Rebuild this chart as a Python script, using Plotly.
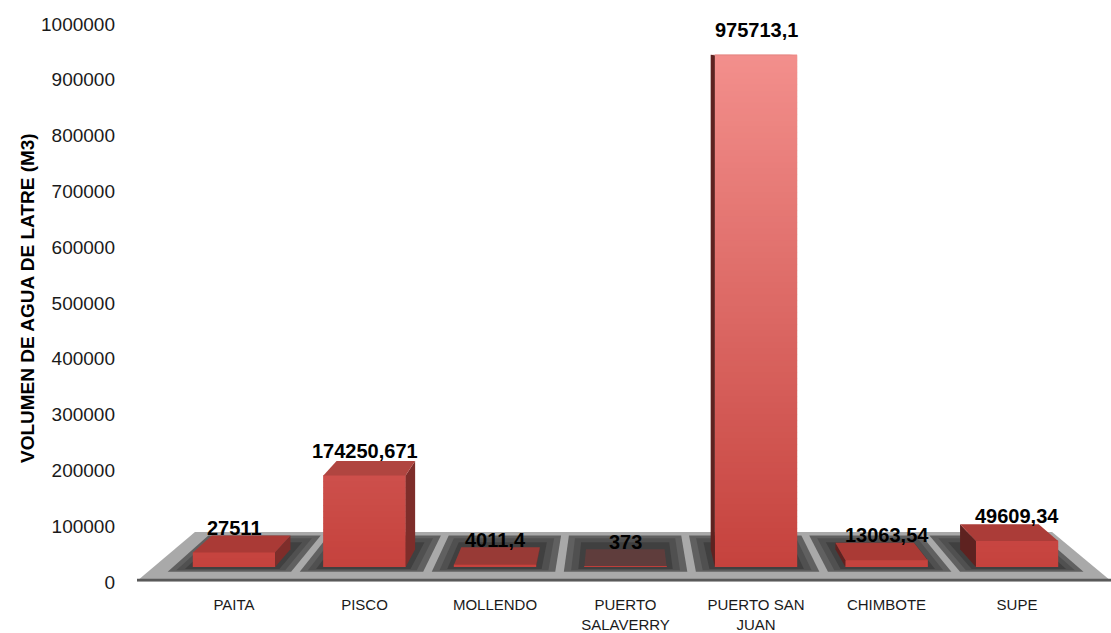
import plotly.graph_objects as go

# ---- data -----------------------------------------------------------------
categories = ["PAITA", "PISCO", "MOLLENDO", "PUERTO<br>SALAVERRY",
              "PUERTO SAN<br>JUAN", "CHIMBOTE", "SUPE"]
values = [27511, 174250.671, 4011.4, 373, 975713.1, 13063.54, 49609.34]
value_labels = ["27511", "174250,671", "4011,4", "373", "975713,1",
                "13063,54", "49609,34"]
y_ticks = [0, 100000, 200000, 300000, 400000, 500000,
           600000, 700000, 800000, 900000, 1000000]
y_tick_text = [str(v) for v in y_ticks]
y_title = "VOLUMEN DE AGUA DE LATRE (M3)"

# ---- canvas / plot-area geometry (pixels) ---------------------------------
W, H = 1111, 633
M_L, M_R, M_T, M_B = 135, 0, 24, 51
PLOT_W = W - M_L - M_R
PLOT_H = H - M_T - M_B
SLOT_PX = 130.5            # horizontal distance between category centres
FIRST_CENTER_PX = 234
X0 = -(FIRST_CENTER_PX - M_L) / SLOT_PX
X1 = X0 + PLOT_W / SLOT_PX
Y_MAX = 1_000_000

# ---- pseudo-3D settings ---------------------------------------------------
BAR_WIDTH = 0.63           # in category units
BAR_FLOOR_PX = 567         # where bar front faces stand
HEIGHT_SCALE = 0.94        # front faces are slightly foreshortened
VP = (620, 40)             # vanishing point for the depth direction
KX, KY = 0.12, 0.0906      # receding rate per unit of depth
BAR_DEPTH = 0.37
FLOOR_FRONT_PX = 581
FLOOR_LEFT_PX = 137

PX_PER_UNIT = HEIGHT_SCALE * PLOT_H / Y_MAX
Y2_SPAN = Y_MAX / HEIGHT_SCALE
Y2_MIN = ((BAR_FLOOR_PX - M_T) / PLOT_H - 1) * Y2_SPAN
Y2_MAX = Y2_MIN + Y2_SPAN

LABEL_FONT = "Liberation Sans Narrow, Arial Narrow, Liberation Sans"


def to_data_x(px):
    return X0 + (px - M_L) / SLOT_PX


def to_px_x(xd):
    return M_L + (xd - X0) * SLOT_PX


def to_data_y(py):
    return (1 - (py - M_T) / PLOT_H) * Y_MAX


def recede(px, py, t):
    return (px + t * KX * (VP[0] - px), py + t * KY * (VP[1] - py))


def path(points):
    pts = [f"{to_data_x(x):.5f},{to_data_y(y):.2f}" for x, y in points]
    return "M " + " L ".join(pts) + " Z"


def hex_rgb(h):
    h = h.lstrip("#")
    return tuple(int(h[i:i + 2], 16) for i in (0, 2, 4))


def mix(c1, c2, f):
    a, b = hex_rgb(c1), hex_rgb(c2)
    return "#%02x%02x%02x" % tuple(round(a[i] + (b[i] - a[i]) * f) for i in range(3))


FRONT_BOTTOM = "#c5423d"
FRONT_TOP = "#f38f8c"
SIDE_RIGHT = "#7e2d2a"
SIDE_LEFT = "#5e2220"
tallest_top = BAR_FLOOR_PX - max(values) * PX_PER_UNIT


def front_colour(py):
    f = (BAR_FLOOR_PX - py) / (BAR_FLOOR_PX - tallest_top)
    return mix(FRONT_BOTTOM, FRONT_TOP, max(0.0, min(1.0, f)))


shapes = []

# ---- floor slab -----------------------------------------------------------
fl_front_l = (FLOOR_LEFT_PX, FLOOR_FRONT_PX)
fl_front_r = (W, FLOOR_FRONT_PX)
shapes.append(dict(type="path", layer="below",
                   path=path([fl_front_l, fl_front_r,
                              recede(*fl_front_r, 1.0), recede(*fl_front_l, 1.0)]),
                   fillcolor="#a9a9a9", line=dict(width=0)))
# slab thickness and front edge
shapes.append(dict(type="rect", layer="below",
                   x0=to_data_x(FLOOR_LEFT_PX), x1=to_data_x(W),
                   y0=to_data_y(FLOOR_FRONT_PX), y1=to_data_y(FLOOR_FRONT_PX + 4),
                   fillcolor="#bdbdbd", line=dict(width=0)))
shapes.append(dict(type="line", layer="below",
                   x0=to_data_x(FLOOR_LEFT_PX), x1=to_data_x(W),
                   y0=to_data_y(FLOOR_FRONT_PX - 1), y1=to_data_y(FLOOR_FRONT_PX - 1),
                   line=dict(color="#595959", width=2.5)))

# shadowed wells under each bar
for i in range(len(categories)):
    c = to_px_x(i)
    for half, t0, t1, col in ((61, -0.10, 0.66, "#606060"),
                              (54, -0.07, 0.60, "#505050"),
                              (47, -0.04, 0.52, "#404040")):
        pts = [recede(c - half, BAR_FLOOR_PX, t0), recede(c + half, BAR_FLOOR_PX, t0),
               recede(c + half, BAR_FLOOR_PX, t1), recede(c - half, BAR_FLOOR_PX, t1)]
        shapes.append(dict(type="path", layer="below", path=path(pts),
                           fillcolor=col, line=dict(width=0)))

# ---- bar faces ------------------------------------------------------------
annotations = []
half_w_px = BAR_WIDTH / 2 * SLOT_PX
for i, (v, lab) in enumerate(zip(values, value_labels)):
    c = to_px_x(i)
    xl, xr = c - half_w_px, c + half_w_px
    ftop = BAR_FLOOR_PX - v * PX_PER_UNIT
    h_px = BAR_FLOOR_PX - ftop

    # vertical shading of the front face
    y = ftop
    while y < BAR_FLOOR_PX - 0.01:
        y2 = min(y + 6, BAR_FLOOR_PX)
        shapes.append(dict(type="rect", layer="above",
                           x0=i - BAR_WIDTH / 2, x1=i + BAR_WIDTH / 2,
                           y0=to_data_y(y2), y1=to_data_y(y - 0.6),
                           fillcolor=front_colour((y + y2) / 2), line=dict(width=0)))
        y = y2

    # side face
    if xr < VP[0]:
        pts = [(xr, BAR_FLOOR_PX), (xr, ftop),
               recede(xr, ftop, BAR_DEPTH), recede(xr, BAR_FLOOR_PX, BAR_DEPTH)]
        shapes.append(dict(type="path", layer="above", path=path(pts),
                           fillcolor=SIDE_RIGHT, line=dict(width=0)))
    elif xl > VP[0]:
        pts = [(xl, BAR_FLOOR_PX), (xl, ftop),
               recede(xl, ftop, BAR_DEPTH), recede(xl, BAR_FLOOR_PX, BAR_DEPTH)]
        shapes.append(dict(type="path", layer="above", path=path(pts),
                           fillcolor=SIDE_LEFT, line=dict(width=0)))

    # top face
    pts = [(xl, ftop), (xr, ftop),
           recede(xr, ftop, BAR_DEPTH), recede(xl, ftop, BAR_DEPTH)]
    shapes.append(dict(type="path", layer="above", path=path(pts),
                       fillcolor=mix(front_colour(ftop), "#000000", 0.14),
                       opacity=max(0.3, min(1.0, h_px / 2.5)),
                       line=dict(width=0)))

    annotations.append(dict(x=i, y=to_data_y(ftop - 25), xref="x", yref="y",
                            text=lab, showarrow=False, xanchor="center",
                            yanchor="middle",
                            font=dict(family=LABEL_FONT, size=20,
                                      color="#000000", weight="bold")))

annotations.append(dict(x=(27 - M_L) / PLOT_W, y=(M_T + PLOT_H - 298) / PLOT_H,
                        xref="paper", yref="paper", text=y_title, showarrow=False,
                        textangle=-90, xanchor="center", yanchor="middle",
                        font=dict(family=LABEL_FONT, size=19,
                                  color="#000000", weight="bold")))

fig = go.Figure(go.Bar(
    x=list(range(len(categories))), y=values, yaxis="y2",
    width=BAR_WIDTH, marker=dict(color=FRONT_BOTTOM, line=dict(width=0)),
    hoverinfo="skip", showlegend=False,
))

fig.update_layout(
    width=W, height=H,
    margin=dict(l=M_L, r=M_R, t=M_T, b=M_B, pad=0),
    paper_bgcolor="white", plot_bgcolor="white",
    xaxis=dict(range=[X0, X1], tickvals=list(range(len(categories))),
               ticktext=categories, showgrid=False, zeroline=False,
               showline=False, ticks="", ticklabelstandoff=12,
               tickfont=dict(family="Liberation Sans", size=15, color="#1a1a1a")),
    yaxis=dict(range=[0, Y_MAX], tickvals=y_ticks, ticktext=y_tick_text,
               showgrid=False, zeroline=False, showline=False, ticks="",
               ticklabelstandoff=19,
               tickfont=dict(family="Liberation Sans", size=19, color="#1a1a1a")),
    yaxis2=dict(range=[Y2_MIN, Y2_MAX], overlaying="y", visible=False),
    shapes=shapes,
    annotations=annotations,
    font=dict(family="Liberation Sans"),
)

fig.write_html("out.html")
